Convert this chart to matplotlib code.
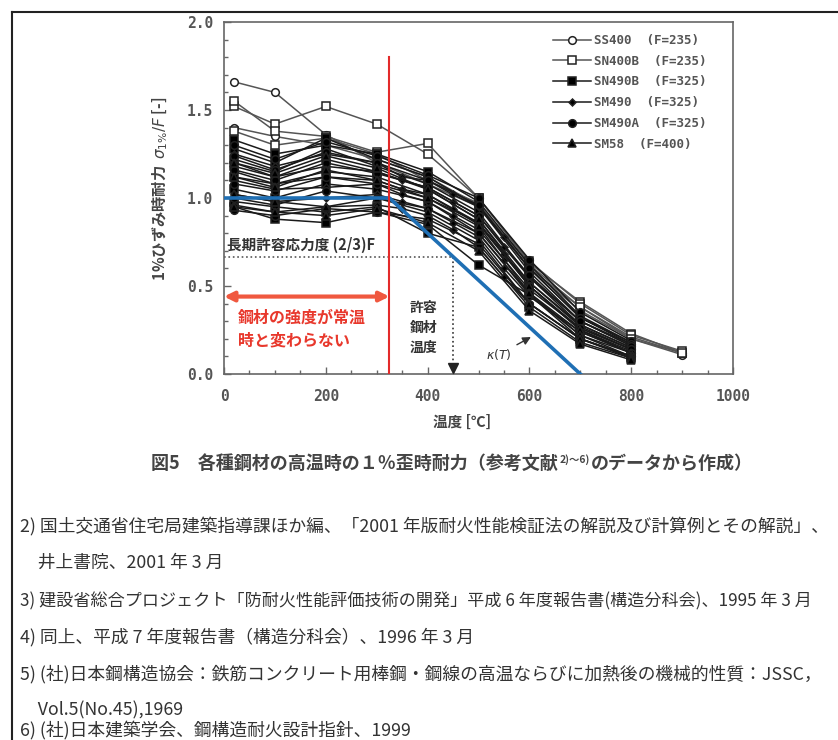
import numpy as np
import matplotlib
matplotlib.use("Agg")
import matplotlib.pyplot as plt
from matplotlib.ticker import MultipleLocator

plt.rcParams['font.family'] = ['Noto Sans CJK JP', 'DejaVu Sans']

# --- data (approximate) ---
t_open = [20, 100, 200, 300, 400, 500, 600, 700, 800, 900]
t_full = [20, 100, 200, 300, 400, 500, 600, 700, 800]
t_fine = [20, 100, 200, 300, 350, 400, 450, 500, 550, 600, 700, 800]

ss400 = [
    [1.66, 1.60, 1.36, 1.20, 1.08, 0.95, 0.60, 0.36, 0.20, 0.11],
    [1.40, 1.35, 1.30, 1.22, 1.12, 0.96, 0.62, 0.38, 0.21, 0.12],
]
sn400b = [
    [1.52, 1.42, 1.52, 1.42, 1.25, 1.00, 0.63, 0.41, 0.23, 0.12],
    [1.55, 1.38, 1.35, 1.26, 1.31, 1.00, 0.64, 0.40, 0.22, 0.13],
    [1.38, 1.30, 1.34, 1.25, 1.10, 0.97, 0.60, 0.38, 0.20, 0.12],
]
sn490b = [
    [1.33, 1.25, 1.30, 1.25, 1.15, 0.98, 0.62, 0.33, 0.18],
    [1.28, 1.20, 1.34, 1.22, 1.12, 0.95, 0.58, 0.30, 0.17],
    [1.22, 1.15, 1.28, 1.18, 1.08, 0.92, 0.55, 0.28, 0.15],
    [1.18, 1.12, 1.22, 1.15, 1.05, 0.88, 0.52, 0.27, 0.14],
    [1.12, 1.08, 1.15, 1.12, 1.02, 0.85, 0.50, 0.25, 0.13],
    [1.05, 1.00, 1.08, 1.05, 0.98, 0.80, 0.45, 0.22, 0.12],
    [0.95, 0.88, 0.86, 0.92, 0.85, 0.62, 0.45, 0.20, 0.10],
    [0.98, 0.95, 0.92, 0.95, 0.80, 0.72, 0.38, 0.18, 0.09],
]
sm490 = [
    [1.25, 1.18, 1.25, 1.20, 1.12, 1.10, 1.02, 0.95, 0.78, 0.60, 0.32, 0.18],
    [1.20, 1.12, 1.18, 1.15, 1.10, 1.06, 0.98, 0.90, 0.72, 0.55, 0.30, 0.16],
    [1.15, 1.08, 1.12, 1.10, 1.05, 1.02, 0.94, 0.86, 0.68, 0.52, 0.28, 0.15],
    [1.10, 1.05, 1.06, 1.08, 1.02, 0.98, 0.90, 0.82, 0.65, 0.48, 0.26, 0.14],
    [1.02, 0.98, 1.00, 1.02, 0.98, 0.94, 0.86, 0.78, 0.60, 0.44, 0.24, 0.12],
    [0.96, 0.92, 0.95, 0.96, 0.94, 0.90, 0.82, 0.72, 0.55, 0.40, 0.20, 0.10],
]
sm490a = [
    [1.30, 1.22, 1.32, 1.24, 1.13, 1.00, 0.65, 0.35, 0.19],
    [1.24, 1.16, 1.26, 1.20, 1.10, 0.96, 0.60, 0.32, 0.17],
    [1.16, 1.10, 1.20, 1.14, 1.06, 0.90, 0.56, 0.30, 0.16],
    [1.08, 1.04, 1.12, 1.08, 1.00, 0.86, 0.50, 0.26, 0.14],
    [1.00, 0.96, 1.04, 1.00, 0.94, 0.80, 0.46, 0.24, 0.12],
    [0.93, 0.90, 0.94, 0.92, 0.88, 0.74, 0.40, 0.20, 0.10],
]
sm58 = [
    [1.20, 1.14, 1.24, 1.17, 1.05, 0.88, 0.50, 0.25, 0.12],
    [1.12, 1.06, 1.16, 1.10, 1.00, 0.84, 0.46, 0.22, 0.10],
    [1.02, 0.98, 0.95, 1.00, 0.92, 0.76, 0.40, 0.20, 0.09],
    [0.95, 0.92, 0.90, 0.94, 0.86, 0.70, 0.36, 0.17, 0.08],
]

# design curve kappa(T)
kappa_t = [0, 325, 700]
kappa_v = [1.0, 1.0, 0.0]

caption_a = "図5　各種鋼材の高温時の１％歪時耐力（参考文献"
caption_sup = "2)～6)"
caption_b = "のデータから作成）"

refs = [
    "2) 国土交通省住宅局建築指導課ほか編、「2001 年版耐火性能検証法の解説及び計算例とその解説」、",
    "　井上書院、2001 年 3 月",
    "3) 建設省総合プロジェクト「防耐火性能評価技術の開発」平成 6 年度報告書(構造分科会)、1995 年 3 月",
    "4) 同上、平成 7 年度報告書（構造分科会）、1996 年 3 月",
    "5) (社)日本鋼構造協会：鉄筋コンクリート用棒鋼・鋼線の高温ならびに加熱後の機械的性質：JSSC，",
    "　Vol.5(No.45),1969",
    "6) (社)日本建築学会、鋼構造耐火設計指針、1999",
]
ref_y = [526, 563, 601, 637, 674, 710, 730]
ref_size = [12.8, 12.8, 12.3, 12.8, 12.8, 12.8, 12.8]

W, H = 838, 740
fig = plt.figure(figsize=(W / 100, H / 100), dpi=100)
ax = fig.add_axes([224 / W, 1 - 374 / H, (733 - 224) / W, (374 - 22) / H])

grades = [
    (ss400, t_open, 'o', 'white', '#555555', 'SS400  (F=235)', 5.5),
    (sn400b, t_open, 's', 'white', '#555555', 'SN400B  (F=235)', 5.5),
    (sn490b, t_full, 's', 'black', '#1a1a1a', 'SN490B  (F=325)', 5.5),
    (sm490, t_fine, 'D', 'black', '#1a1a1a', 'SM490  (F=325)', 3.5),
    (sm490a, t_full, 'o', 'black', '#1a1a1a', 'SM490A  (F=325)', 5.5),
    (sm58, t_full, '^', 'black', '#1a1a1a', 'SM58  (F=400)', 5.5),
]
for curves, tt, mk, fc, lc, lab, ms in grades:
    for k, vals in enumerate(curves):
        ax.plot(tt, vals, color=lc, lw=1.1, marker=mk, ms=ms, mfc=fc,
                mec='#222222', mew=1.1, label=lab if k == 0 else None, zorder=3)

# blue design line
ax.plot(kappa_t, kappa_v, color='#1f6fb4', lw=2.6, zorder=4)
# red vertical line at 325 C
ax.axvline(325, ymax=1.8 / 2.0, color='#e32a2a', lw=1.5, zorder=5)

# long-term allowable stress (2/3)F and allowable temperature
ax.plot([0, 450], [2 / 3, 2 / 3], ls=':', color='#555555', lw=1.2, zorder=2)
ax.plot([450, 450], [2 / 3, 0.03], ls=':', color='#333333', lw=1.2, zorder=2)
ax.plot([450], [0.035], marker='v', color='#222222', ms=7, zorder=6)
ax.text(5, 0.69, "長期許容応力度 (2/3)F", fontsize=10.5, color='#333333',
        fontweight='bold', va='bottom')
ax.text(392, 0.26, "許容\n鋼材\n温度", fontsize=10, color='#333333',
        fontweight='bold', ha='center', va='center', linespacing=1.55)

# red arrow and note
ax.annotate('', xy=(0, 0.44), xytext=(325, 0.44),
            arrowprops=dict(arrowstyle='<|-|>', color='#f0583f', lw=3,
                            mutation_scale=14, shrinkA=0, shrinkB=0))
ax.text(28, 0.32, "鋼材の強度が常温", fontsize=11.5, color='#e8382c',
        fontweight='bold', va='center')
ax.text(28, 0.19, "時と変わらない", fontsize=11.5, color='#e8382c',
        fontweight='bold', va='center')

# kappa(T) label
ax.annotate(r'$\kappa(T)$', xy=(603, 0.21), xytext=(540, 0.11),
            fontsize=9, color='#333333', ha='center', va='center',
            arrowprops=dict(arrowstyle='-|>', color='#333333', lw=1,
                            mutation_scale=12, shrinkA=2, shrinkB=0))

ax.set_xlim(0, 1000)
ax.set_ylim(0, 2.0)
ax.xaxis.set_major_locator(MultipleLocator(200))
ax.xaxis.set_minor_locator(MultipleLocator(50))
ax.yaxis.set_major_locator(MultipleLocator(0.5))
ax.yaxis.set_minor_locator(MultipleLocator(0.1))
ax.yaxis.set_major_formatter(plt.FuncFormatter(lambda v, p: f"{v:.1f}"))
ax.tick_params(which='both', direction='in', colors='#666666',
               labelcolor='#555555', labelsize=10.5, width=1)
ax.tick_params(which='major', length=5)
ax.tick_params(axis='x', which='major', pad=11)
ax.tick_params(axis='y', which='major', pad=8)
ax.tick_params(which='minor', length=3)
for lab in ax.get_xticklabels() + ax.get_yticklabels():
    lab.set_family('DejaVu Sans Mono')
    lab.set_fontweight('bold')
for sp in ax.spines.values():
    sp.set_color('#666666')
    sp.set_linewidth(1.2)

ax.set_xlabel("温度 [℃]", fontsize=10.5, color='#444444', fontweight='bold')
ax.xaxis.set_label_coords((462 - 224) / 509, (374 - 422) / 352)
ax.xaxis.label.set_va('center')
ax.set_ylabel(r"1%ひずみ時耐力  $\sigma_{1\%}/F$ [-]", fontsize=11,
              color='#444444', fontweight='bold')
ax.yaxis.set_label_coords((160 - 224) / 509, (374 - 189) / 352)
ax.yaxis.label.set_va('center')

leg = ax.legend(loc='upper left', bbox_to_anchor=((553 - 224) / 509, (374 - 34) / 352),
                frameon=False, handlelength=3.0, handletextpad=0.25,
                labelspacing=0.62, borderaxespad=0, borderpad=0,
                prop={'family': 'DejaVu Sans Mono', 'weight': 'bold', 'size': 9})
for t in leg.get_texts():
    t.set_color('#555555')

# caption (with superscript reference numbers) and references
renderer = fig.canvas.get_renderer()
cap_kw = dict(fontsize=13, color='#444444', fontweight='bold', va='baseline')
cy = 1 - 469 / H
t1 = fig.text(0, cy, caption_a, **cap_kw)
t2 = fig.text(0, cy + 6 / H, caption_sup, fontsize=7.5, color='#444444',
              fontweight='bold', va='baseline')
t3 = fig.text(0, cy, caption_b, **cap_kw)
w1 = t1.get_window_extent(renderer).width
w2 = t2.get_window_extent(renderer).width
w3 = t3.get_window_extent(renderer).width
x0 = 452 - (w1 + w2 + w3 + 2) / 2
t1.set_x(x0 / W)
t2.set_x((x0 + w1 + 1) / W)
t3.set_x((x0 + w1 + w2 + 2) / W)

for line, yy, fs in zip(refs, ref_y, ref_size):
    fig.text(20 / W, 1 - yy / H, line, fontsize=fs, color='#333333',
             ha='left', va='center')

# page border (top and left)
fig.add_artist(plt.Line2D([12 / W, 1.0], [1 - 12 / H, 1 - 12 / H],
                          color='#222222', lw=1.5))
fig.add_artist(plt.Line2D([12 / W, 12 / W], [1 - 12 / H, 0.0],
                          color='#222222', lw=1.5))

fig.savefig("out.png", dpi=100)
